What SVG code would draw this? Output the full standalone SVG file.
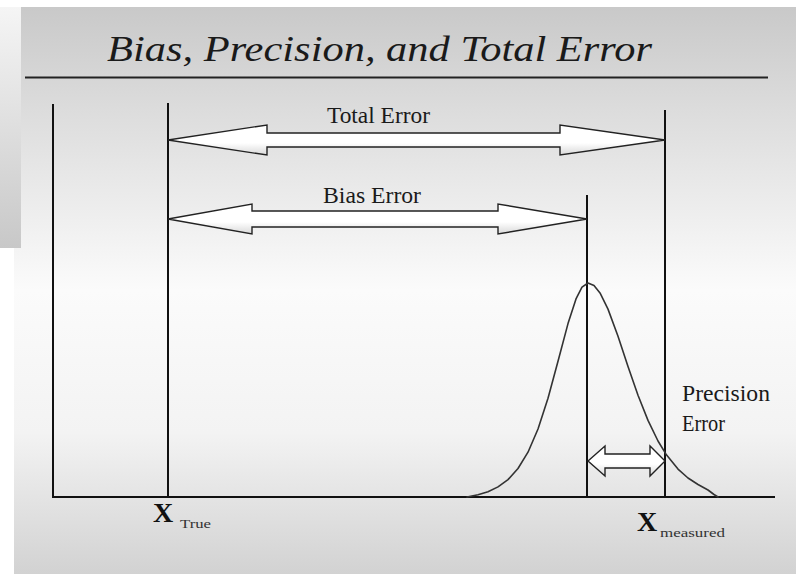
<svg xmlns="http://www.w3.org/2000/svg" width="796" height="574" viewBox="0 0 796 574">
<defs>
<linearGradient id="panel" gradientUnits="userSpaceOnUse" x1="0" y1="7" x2="0" y2="574">
<stop offset="0" stop-color="#c9c9c9"/>
<stop offset="0.2" stop-color="#dedede"/>
<stop offset="0.5" stop-color="#fbfbfb"/>
<stop offset="0.75" stop-color="#f3f3f3"/>
<stop offset="1" stop-color="#d2d2d2"/>
</linearGradient>
<linearGradient id="strip" x1="0" y1="0" x2="0" y2="1">
<stop offset="0" stop-color="#f5f5f5"/>
<stop offset="1" stop-color="#c8c8c8"/>
</linearGradient>
<linearGradient id="arrowFill" x1="0" y1="0" x2="0" y2="1">
<stop offset="0" stop-color="#ffffff"/>
<stop offset="0.6" stop-color="#ffffff"/>
<stop offset="1" stop-color="#d8d8d8"/>
</linearGradient>
</defs>
<style>
.ln{stroke:#111;stroke-width:2;fill:none}
.arr{fill:url(#arrowFill);stroke:#222;stroke-width:1.4;stroke-linejoin:miter}
.lbl{font-family:"Liberation Serif","Times New Roman",serif;font-size:24px;fill:#1a1a1a}
.x{font-family:"Liberation Serif","Times New Roman",serif;font-size:28px;font-weight:bold;fill:#111}
.sub{font-family:"Liberation Serif","Times New Roman",serif;font-size:12px;fill:#333}
.ttl{font-family:"Liberation Serif","Times New Roman",serif;font-style:italic;font-size:35px;fill:#1a1a1a}
.curve{fill:none;stroke:#333;stroke-width:1.6;stroke-linejoin:round;stroke-linecap:round}
</style>
<rect x="0" y="0" width="796" height="574" fill="#ffffff"/>
<rect x="0" y="7" width="21" height="241" fill="url(#strip)"/>
<rect x="21" y="7" width="775" height="567" fill="url(#panel)"/>
<rect x="14" y="248" width="7" height="326" fill="url(#panel)"/>

<g id="title">
<text class="ttl" x="107" y="61" textLength="545" lengthAdjust="spacingAndGlyphs">Bias, Precision, and Total Error</text>
<line x1="25" y1="77.5" x2="768" y2="77.5" stroke="#222" stroke-width="2"/>
</g>

<g id="axes">
<line class="ln" x1="53" y1="104" x2="53" y2="497"/>
<line class="ln" x1="52" y1="497" x2="775" y2="497"/>
</g>

<g id="x-true">
<line class="ln" x1="168" y1="103" x2="168" y2="497"/>
<text class="x" x="153" y="522">X</text>
<text class="sub" x="180" y="528" textLength="31" lengthAdjust="spacingAndGlyphs">True</text>
</g>

<g id="x-mean">
<line class="ln" x1="587" y1="195" x2="587" y2="497"/>
</g>

<g id="x-measured">
<line class="ln" x1="665" y1="110" x2="665" y2="497"/>
<text class="x" x="637" y="531">X</text>
<text class="sub" x="660" y="537" textLength="65" lengthAdjust="spacingAndGlyphs">measured</text>
</g>

<g id="distribution">
<polyline class="curve" points="467,497 478,494.7 488,491.7 498,486.9 508,479.6 518,468.5 528,452.2 538,429 548,398.2 558,361.3 568,323.6 576,298.9 582,287.1 588,283 594,285.5 600,292.9 608,309.1 618,336.3 628,366.4 638,395.2 648,420.4 658,441 666,454.2 678,469.1 688,478 698,484.5 708,490 714,494.5 718,497"/>
</g>

<g id="connectors">
<path class="arr" d="M168,140 L267,125 L267,133 L560,133 L560,125 L665,140 L560,155 L560,147 L267,147 L267,155 Z"/>
<path class="arr" d="M168,219 L252,204 L252,211 L498,211 L498,204 L587,219 L498,234 L498,227 L252,227 L252,234 Z"/>
<path class="arr" d="M588,461 L605,446 L605,454 L650,454 L650,446 L665,461 L650,476 L650,468 L605,468 L605,476 Z"/>
</g>

<g id="labels">
<text class="lbl" x="327" y="123" textLength="103" lengthAdjust="spacingAndGlyphs">Total Error</text>
<text class="lbl" x="323" y="203" textLength="98" lengthAdjust="spacingAndGlyphs">Bias Error</text>
<text class="lbl" x="682" y="401" textLength="88" lengthAdjust="spacingAndGlyphs">Precision</text>
<text class="lbl" x="682" y="431" textLength="43" lengthAdjust="spacingAndGlyphs">Error</text>
</g>
</svg>
